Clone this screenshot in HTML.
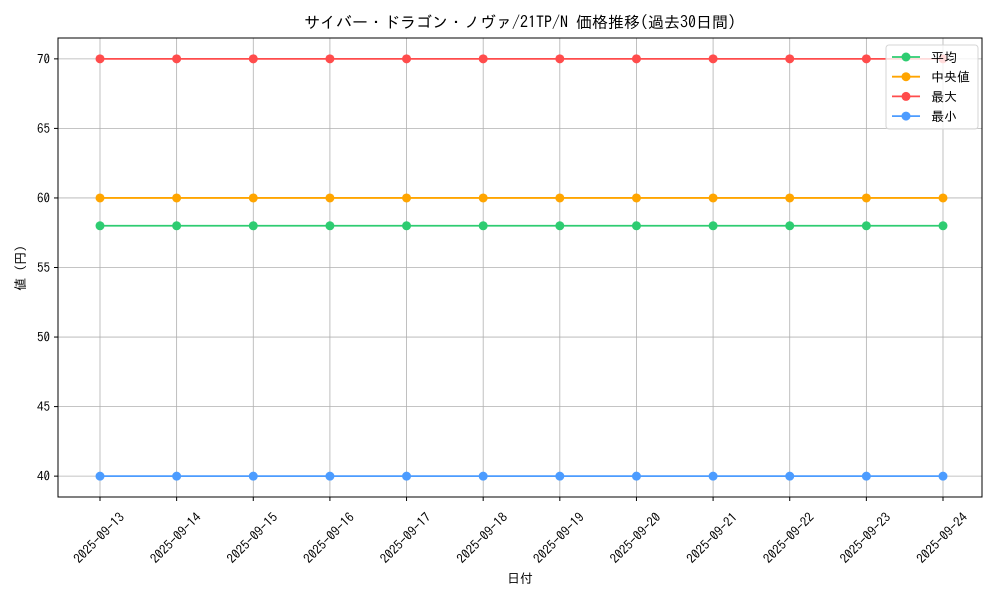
<!DOCTYPE html>
<html><head><meta charset="utf-8"><style>
body{margin:0;background:#fff}
text{font-family:"IPAGothic","Liberation Sans","Noto Sans CJK JP",sans-serif;fill:#000}
</style></head><body>
<svg id="chart" width="1000" height="600" xmlns="http://www.w3.org/2000/svg">
<rect width="1000" height="600" fill="#fff"/>
<text x="520" y="28" font-size="16" text-anchor="middle">サイバー・ドラゴン・ノヴァ/21TP/N 価格推移(過去30日間)</text>
<g id="grid"></g>
<g id="axes"></g>
<g id="series"></g>
<rect x="58" y="38" width="924" height="459" fill="none" stroke="#000" stroke-width="1"/>
<text x="520" y="583" font-size="13" text-anchor="middle">日付</text>
<text x="0" y="0" font-size="13" text-anchor="middle" transform="translate(25,268) rotate(-90)">値 (円)</text>
<g id="legend"></g>
</svg>
<script>
const categories=["2025-09-13","2025-09-14","2025-09-15","2025-09-16","2025-09-17","2025-09-18","2025-09-19","2025-09-20","2025-09-21","2025-09-22","2025-09-23","2025-09-24"];
const avgValues=[58,58,58,58,58,58,58,58,58,58,58,58];
const medianValues=[60,60,60,60,60,60,60,60,60,60,60,60];
const maxValues=[70,70,70,70,70,70,70,70,70,70,70,70];
const minValues=[40,40,40,40,40,40,40,40,40,40,40,40];
const yTicks=[40,45,50,55,60,65,70];
const seriesNames=["平均","中央値","最大","最小"];
const seriesColors=["#2ecc71","#ffa500","#ff4c4c","#4c9cff"];
const L=58,R=982,T=38,B=497;
const all=[].concat(avgValues,medianValues,maxValues,minValues);
const dmin=Math.min(...all),dmax=Math.max(...all),pad=(dmax-dmin)*0.05||1;
const y0=dmin-pad,y1=dmax+pad;
const n=categories.length;
const xs=i=>100+i*(843/Math.max(n-1,1));
const ys=v=>B-(v-y0)/(y1-y0)*(B-T);
const NS="http://www.w3.org/2000/svg";
function mk(tag,attrs,parent){const e=document.createElementNS(NS,tag);for(const k in attrs)e.setAttribute(k,attrs[k]);parent.appendChild(e);return e;}
const grid=document.getElementById('grid'),axes=document.getElementById('axes'),ser=document.getElementById('series'),leg=document.getElementById('legend');
yTicks.forEach(v=>{const y=ys(v);
const g=mk('line',{x1:L,x2:R,y1:y,y2:y,stroke:'#b0b0b0','stroke-width':0.8},grid);

const t=mk('line',{x1:L-4,x2:L,y1:y,y2:y,stroke:'#000'},axes);

const tx=mk('text',{x:L-8,y:y+4.5,'font-size':13,'text-anchor':'end'},axes);tx.textContent=v;
});
categories.forEach((c,i)=>{const x=xs(i);
const g=mk('line',{x1:x,x2:x,y1:T,y2:B,stroke:'#b0b0b0','stroke-width':0.8},grid);

const t=mk('line',{x1:x,x2:x,y1:B,y2:B+4,stroke:'#000'},axes);

const tx=mk('text',{x:0,y:0,'font-size':13,'text-anchor':'middle','dominant-baseline':'central',transform:`translate(${x-1},${B+41}) rotate(-45)`},axes);tx.textContent=c;
});
[avgValues,medianValues,maxValues,minValues].forEach((vals,s)=>{
const col=seriesColors[s];
const p=mk('polyline',{points:vals.map((v,i)=>xs(i)+','+ys(v)).join(' '),fill:'none',stroke:col,'stroke-width':1.8},ser);

vals.forEach((v,i)=>{const c=mk('circle',{cx:xs(i),cy:ys(v),r:4.5,fill:col},ser);
});
});
const lb=mk('rect',{x:886,y:45,width:92,height:84,rx:3,fill:'#fff','fill-opacity':0.8,stroke:'#d5d5d5'},leg);

seriesNames.forEach((nm,s)=>{const y=57+s*19.7;const col=seriesColors[s];
const g=mk('g',{},leg);
mk('line',{x1:892,x2:920,y1:y,y2:y,stroke:col,'stroke-width':1.8},g);
mk('circle',{cx:906,cy:y,r:4.5,fill:col},g);
const t=mk('text',{x:931,y:y+5,'font-size':13},g);t.textContent=(s==1?' ':'')+nm;});
</script>
</body></html>
